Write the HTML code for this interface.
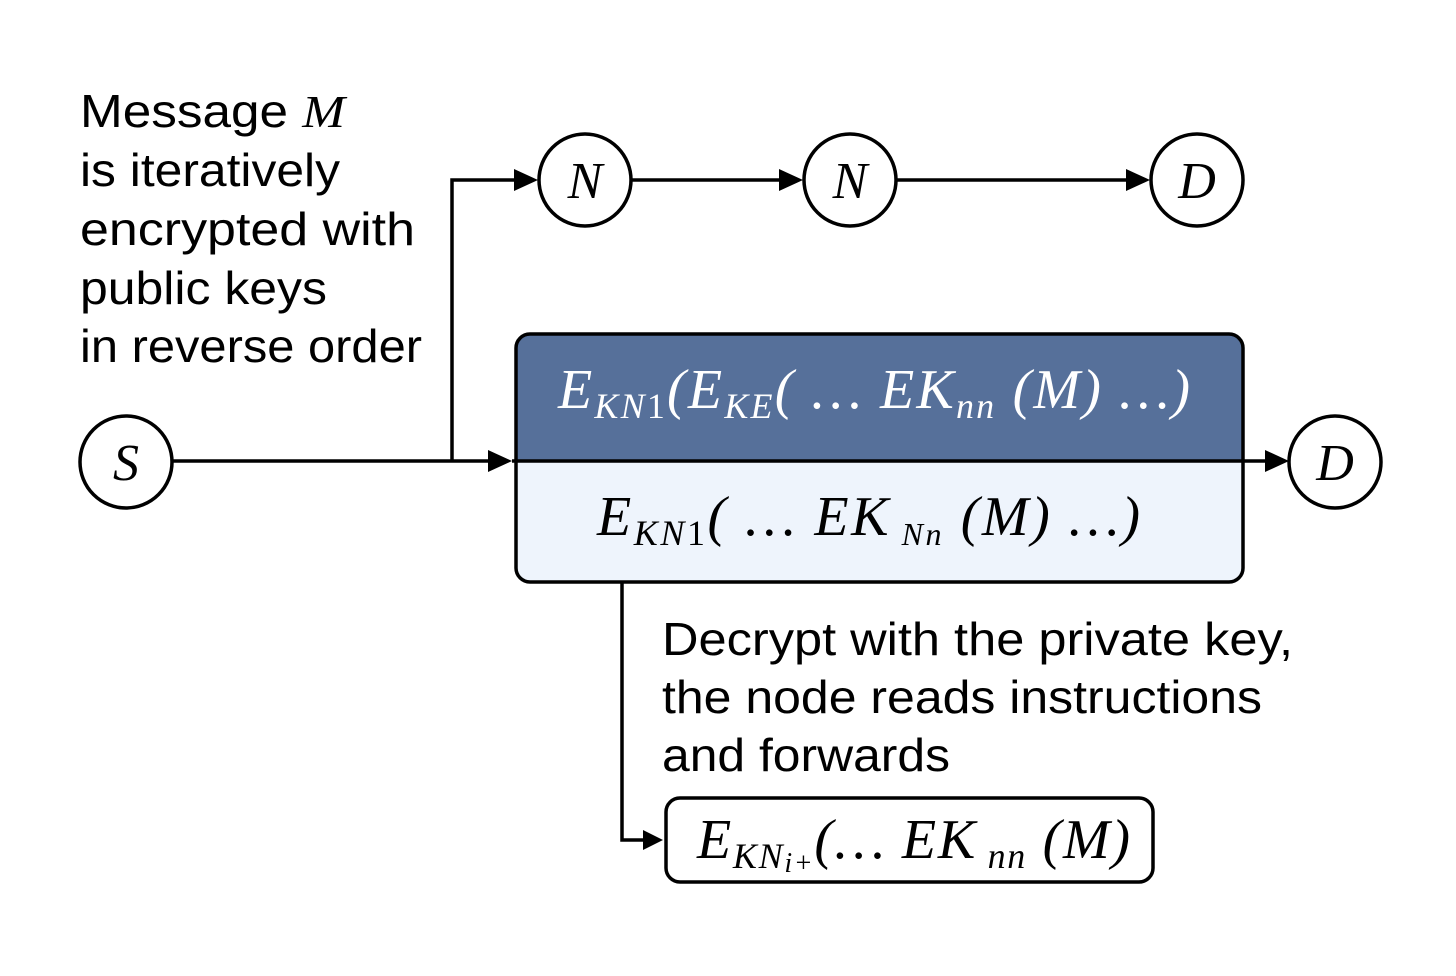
<!DOCTYPE html>
<html><head><style>
body{margin:0;background:#fff}
svg text{font-family:"Liberation Sans",sans-serif}
.m{font-family:"Liberation Serif","DejaVu Serif",serif;font-style:italic}
</style></head><body>
<svg width="1456" height="971" viewBox="0 0 1456 971" xmlns="http://www.w3.org/2000/svg">
<g fill="none" stroke="#000" stroke-width="3.5">
<circle cx="585" cy="180" r="46"/><circle cx="850" cy="180" r="46"/><circle cx="1197" cy="180" r="46"/>
<circle cx="126" cy="462" r="46"/><circle cx="1335" cy="462" r="46"/>
</g>
<rect x="516" y="334" width="727" height="248" rx="14" fill="#eef4fc"/>
<path d="M530,334 H1229 A14,14 0 0 1 1243,348 V461 H516 V348 A14,14 0 0 1 530,334Z" fill="#56709a"/>
<rect x="516" y="334" width="727" height="248" rx="14" fill="none" stroke="#000" stroke-width="3.5"/>
<rect x="666" y="798" width="487" height="84" rx="14" fill="#fff" stroke="#000" stroke-width="3.5"/>
<g stroke="#000" stroke-width="3.5" fill="none">
<path d="M172,461 H500"/><path d="M452,461 V180 H526"/>
<path d="M632,180 H790"/><path d="M897,180 H1137"/>
<path d="M512,461 H1276"/>
<path d="M622,582 V840 H650"/>
</g>
<g fill="#000">
<path d="M512,461 l-24,-11 v22z"/>
<path d="M538,180 l-24,-11 v22z"/>
<path d="M803,180 l-24,-11 v22z"/>
<path d="M1150,180 l-24,-11 v22z"/>
<path d="M1289,461 l-24,-11 v22z"/>
<path d="M663,840 l-20,-10 v20z"/>
</g>
<g class="m" font-size="52" text-anchor="middle">
<text x="585" y="198" class="m">N</text><text x="850" y="198" class="m">N</text><text x="1197" y="198" class="m">D</text>
<text x="126" y="480" class="m">S</text><text x="1335" y="480" class="m">D</text>
</g>
<text x="558" y="408" textLength="632" lengthAdjust="spacing" class="m" font-size="56" fill="#fff">E<tspan font-size="36" dy="10">KN</tspan><tspan font-size="36" font-style="normal">1</tspan><tspan dy="-10">(E</tspan><tspan font-size="36" dy="10">KE</tspan><tspan dy="-10">( … EK</tspan><tspan font-size="36" dy="10">nn</tspan><tspan dy="-10"> (M) …)</tspan></text>
<text x="597" y="535" textLength="543" lengthAdjust="spacing" class="m" font-size="56" fill="#000">E<tspan font-size="36" dy="10">KN</tspan><tspan font-size="36" font-style="normal">1</tspan><tspan dy="-10">( … EK</tspan><tspan font-size="32" dy="10"> Nn</tspan><tspan dy="-10"> (M) …)</tspan></text>
<text x="697" y="858" textLength="433" lengthAdjust="spacing" class="m" font-size="56" fill="#000">E<tspan font-size="36" dy="10">KN</tspan><tspan font-size="28" dy="4">i+</tspan><tspan dy="-14">(… EK</tspan><tspan font-size="36" dy="10"> nn</tspan><tspan dy="-10"> (M)</tspan></text>
<g font-size="46" fill="#000">
<text x="80" y="127" textLength="265" lengthAdjust="spacingAndGlyphs">Message <tspan class="m">M</tspan></text>
<text x="80" y="186" textLength="260" lengthAdjust="spacingAndGlyphs">is iteratively</text>
<text x="80" y="245" textLength="335" lengthAdjust="spacingAndGlyphs">encrypted with</text>
<text x="80" y="304" textLength="247" lengthAdjust="spacingAndGlyphs">public keys</text>
<text x="80" y="362" textLength="342" lengthAdjust="spacingAndGlyphs">in reverse order</text>
<text x="662" y="655" textLength="631" lengthAdjust="spacingAndGlyphs">Decrypt with the private key,</text>
<text x="662" y="713" textLength="600" lengthAdjust="spacingAndGlyphs">the node reads instructions</text>
<text x="662" y="771" textLength="288" lengthAdjust="spacingAndGlyphs">and forwards</text>
</g>
</svg>
</body></html>
